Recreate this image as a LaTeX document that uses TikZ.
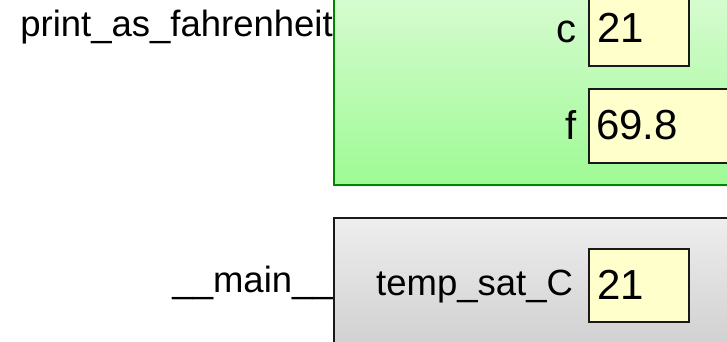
\documentclass[tikz,border=0pt]{standalone}
\usepackage{fontspec}
\setmainfont{Liberation Sans}
\usetikzlibrary{shadows}
\definecolor{greentop}{RGB}{222,252,216}
\definecolor{greenbot}{RGB}{158,250,148}
\definecolor{greenline}{RGB}{0,135,0}
\definecolor{graytop}{RGB}{238,238,238}
\definecolor{graybot}{RGB}{196,196,196}
\definecolor{valfill}{RGB}{255,255,204}
\begin{document}
\begin{tikzpicture}[x=1pt,y=-1pt,
  frame/.style={rectangle, line width=2.4pt, inner sep=0pt, anchor=north west},
  greenframe/.style={frame, draw=greenline, top color=greentop, bottom color=greenbot,
    drop shadow={opacity=0.12, shadow xshift=2pt, shadow yshift=-2pt}},
  grayframe/.style={frame, draw=black!90, top color=graytop, bottom color=graybot},
  valbox/.style={rectangle, draw=black!90, line width=2.2pt, fill=valfill, inner sep=0pt, anchor=north west},
  lbl/.style={font=\fontsize{36.5}{36.5}\selectfont, inner sep=0pt},
  vname/.style={font=\fontsize{40}{40}\selectfont, inner sep=0pt, anchor=base east},
  val/.style={font=\fontsize{42}{42}\selectfont, inner sep=0pt, anchor=base west}]
\useasboundingbox (0,0) rectangle (727,342);
\clip (0,0) rectangle (727,342);
% frames
\node[greenframe, minimum width=447pt, minimum height=214pt] (pf) at (333,-30) {};
\node[grayframe, minimum width=447pt, minimum height=180pt] (mf) at (333,217) {};
% frame names
\node[lbl, anchor=base east] (pfname) at (333,37) {print\_as\_fahrenheit};
\node[lbl, anchor=base east] (mfname) at (333,292) {\_\_main\_\_};
% variables of print_as_fahrenheit
\node[valbox, minimum width=100pt, minimum height=85pt] (cbox) at (588,-20) {};
\node[valbox, minimum width=192pt, minimum height=74pt] (fbox) at (588,88) {};
\node[vname] (cname) at (577,43) {c};
\node[vname] (fname) at (577,139) {f};
\node[val] (cval) at (597,43) {21};
\node[val] (fval) at (596,139) {69.8};
% variables of __main__
\node[valbox, minimum width=100pt, minimum height=73pt] (tbox) at (588,248) {};
\node[lbl, anchor=base west] (tname) at (376,295) {temp\_sat\_C};
\node[val] (tval) at (597,299) {21};
\end{tikzpicture}
\end{document}
